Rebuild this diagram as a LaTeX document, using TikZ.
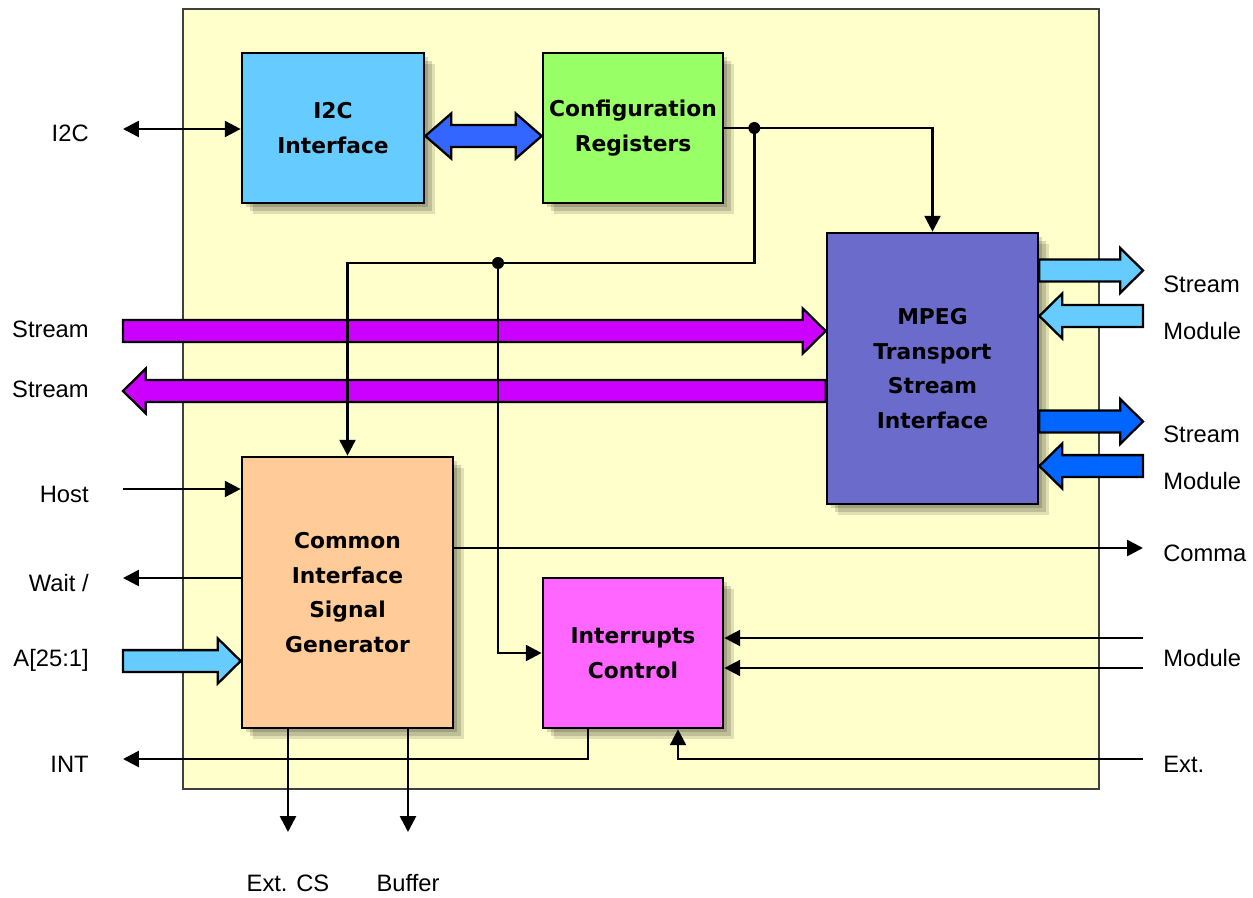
\documentclass[tikz,border=0pt]{standalone}
\usepackage{fontspec}
\setmainfont{Liberation Sans}
\newfontfamily\boxfont{DejaVu Sans}
\usetikzlibrary{arrows.meta,calc,shadows}

\definecolor{chipbg}{HTML}{FFFFCC}
\definecolor{i2cblue}{HTML}{66CCFF}
\definecolor{cfggreen}{HTML}{99FF66}
\definecolor{mpegblue}{HTML}{6B6BCC}
\definecolor{cisgorange}{HTML}{FFCC99}
\definecolor{irqpink}{HTML}{FF66FF}
\definecolor{streampurple}{HTML}{CC00FF}
\definecolor{midblue}{HTML}{3366FF}
\definecolor{darkblue}{HTML}{0066FF}

% broad arrow from #1 to #2 (same height), filled with #3
\newcommand{\fatarrow}[3]{%
  \draw[fat, fill=#3] let \p1=(#1), \p2=(#2), \n1={13pt*sign(\x1-\x2)} in
    (\x1,\y1+6.2pt) -- (\x2+\n1,\y1+6.2pt) -- (\x2+\n1,\y1+12.8pt) -- (\x2,\y1)
    -- (\x2+\n1,\y1-12.8pt) -- (\x2+\n1,\y1-6.2pt) -- (\x1,\y1-6.2pt) -- cycle;}
% broad arrow with a head at both ends
\newcommand{\fatboth}[3]{%
  \draw[fat, fill=#3] let \p1=(#1), \p2=(#2) in
    (\x1,\y1) -- (\x1+14.7pt,\y1+12.8pt) -- (\x1+14.7pt,\y1+6.2pt)
    -- (\x2-14.7pt,\y1+6.2pt) -- (\x2-14.7pt,\y1+12.8pt) -- (\x2,\y1)
    -- (\x2-14.7pt,\y1-12.8pt) -- (\x2-14.7pt,\y1-6.2pt)
    -- (\x1+14.7pt,\y1-6.2pt) -- (\x1+14.7pt,\y1-12.8pt) -- cycle;}

\begin{document}
\begin{tikzpicture}[every node/.style={inner sep=0pt},
  sigtext/.style={font=\fontsize{13.5}{16}\selectfont},
  boxshadow/.style={
    general shadow={fill=black, opacity=.15, shadow xshift=2.5pt, shadow yshift=-2.5pt},
    general shadow={fill=black, opacity=.15, shadow xshift=4.5pt, shadow yshift=-4.5pt},
    general shadow={fill=black, opacity=.12, shadow xshift=6.5pt, shadow yshift=-6.5pt}},
  block/.style={draw, line width=1.5pt, align=center, boxshadow,
    font=\boxfont\bfseries\fontsize{12.4}{19.8}\selectfont},
  fat/.style={draw=black, line width=1.3pt, line join=miter},
  wire/.style={line width=1.5pt},
  sig/.style={wire, -{Triangle[length=9pt,width=9pt]}},
  sigboth/.style={wire, {Triangle[length=9pt,width=9pt]}-{Triangle[length=9pt,width=9pt]}},
  ]

  \useasboundingbox (0,0) rectangle (25.06,-17.96);

  \node[draw=black!75, fill=chipbg, line width=1pt, minimum width=18.32cm, minimum height=15.6cm] (chip) at (12.82,-7.98) {};

  \node[block, fill=i2cblue, minimum width=3.64cm, minimum height=3cm] (i2c) at (6.66,-2.56) {I2C\\Interface};
  \node[block, fill=cfggreen, minimum width=3.6cm, minimum height=3cm] (cfg) at (12.66,-2.56) {Configuration\\Registers};
  \node[block, fill=mpegblue, minimum width=4.22cm, minimum height=5.42cm] (mpeg) at (18.65,-7.37) {MPEG\\Transport\\Stream\\Interface};
  \node[block, fill=cisgorange, minimum width=4.22cm, minimum height=5.42cm] (cisg) at (6.95,-11.85) {Common\\Interface\\Signal\\Generator};
  \node[block, fill=irqpink, minimum width=3.6cm, minimum height=3cm] (irq) at (12.66,-13.06) {Interrupts\\Control};

  % labels, left side
  \node[sigtext, anchor=east] (li2c) at (1.78,-2.66) {I2C};
  \node[sigtext, anchor=east] (lstin) at (1.78,-6.58) {Stream};
  \node[sigtext, anchor=east] (lstout) at (1.78,-7.78) {Stream};
  \node[sigtext, anchor=east] (lhost) at (1.78,-9.88) {Host};
  \node[sigtext, anchor=east] (lwait) at (1.78,-11.66) {Wait /};
  \node[sigtext, anchor=east] (laddr) at (1.78,-13.20) {A[25:1]};
  \node[sigtext, anchor=east] (lint) at (1.78,-15.28) {INT};
  % labels, right side
  \node[sigtext, anchor=west] (ls1) at (23.26,-5.68) {Stream};
  \node[sigtext, anchor=west] (lm1) at (23.26,-6.62) {Module};
  \node[sigtext, anchor=west] (ls2) at (23.26,-8.68) {Stream};
  \node[sigtext, anchor=west] (lm2) at (23.26,-9.62) {Module};
  \node[sigtext, anchor=west] (lcmd) at (23.26,-11.06) {Comma};
  \node[sigtext, anchor=west] (lmod) at (23.26,-13.16) {Module};
  \node[sigtext, anchor=west] (lext) at (23.26,-15.28) {Ext.};
  % labels, bottom
  \node[sigtext] (lcs) at (5.76,-17.66) {Ext. CS};
  \node[sigtext] (lbuf) at (8.16,-17.66) {Buffer};

  % free ends
  \coordinate (pi2c) at (2.46,-2.58);
  \coordinate (pstin) at (2.46,-6.62);
  \coordinate (pstout) at (2.46,-7.82);
  \coordinate (phost) at (2.46,-9.78);
  \coordinate (pwait) at (2.46,-11.56);
  \coordinate (paddr) at (2.46,-13.22);
  \coordinate (pint) at (2.46,-15.18);
  \coordinate (ps1) at (22.86,-5.41);
  \coordinate (pm1) at (22.86,-6.32);
  \coordinate (ps2) at (22.86,-8.43);
  \coordinate (pm2) at (22.86,-9.32);
  \coordinate (pcmd) at (22.86,-10.96);
  \coordinate (pmod1) at (22.86,-12.76);
  \coordinate (pmod2) at (22.86,-13.36);
  \coordinate (pext) at (22.86,-15.18);
  \coordinate (pcs) at (5.76,-16.64);
  \coordinate (pbuf) at (8.16,-16.64);
  \coordinate (d1) at ($(cfg.east)+(0.6,0)$);
  \coordinate (d2) at (9.96,-5.26);

  % broad arrows
  \fatboth{$(i2c.east)+(0,-0.16)$}{$(cfg.west)+(0,-0.16)$}{midblue}
  \fatarrow{pstin}{mpeg.west |- pstin}{streampurple}
  \fatarrow{mpeg.west |- pstout}{pstout}{streampurple}
  \fatarrow{mpeg.east |- ps1}{ps1}{i2cblue}
  \fatarrow{pm1}{mpeg.east |- pm1}{i2cblue}
  \fatarrow{mpeg.east |- ps2}{ps2}{darkblue}
  \fatarrow{pm2}{mpeg.east |- pm2}{darkblue}
  \fatarrow{paddr}{cisg.west |- paddr}{i2cblue}

  % signal lines
  \draw[sigboth] (pi2c) -- (i2c.west |- pi2c);
  \draw[sig] (cfg.east) -- (d1) -- (mpeg.north |- d1) -- (mpeg.north);
  \draw[sig] (d1) -- (d1 |- d2) -- (cisg.north |- d2) -- (cisg.north);
  \draw[sig] (d2) -- (d2 |- irq.west) -- (irq.west);
  \draw[sig] (phost) -- (cisg.west |- phost);
  \draw[sig] (cisg.west |- pwait) -- (pwait);
  \draw[sig] ($(irq.south)+(-0.9,0)$) |- (pint);
  \draw[sig] (pext) -| ($(irq.south)+(0.9,0)$);
  \draw[sig] (cisg.east |- pcmd) -- (pcmd);
  \draw[sig] (pmod1) -- (irq.east |- pmod1);
  \draw[sig] (pmod2) -- (irq.east |- pmod2);
  \draw[sig] (cisg.south -| pcs) -- (pcs);
  \draw[sig] (cisg.south -| pbuf) -- (pbuf);

  \fill (d1) circle (0.12);
  \fill (d2) circle (0.12);

\end{tikzpicture}
\end{document}
